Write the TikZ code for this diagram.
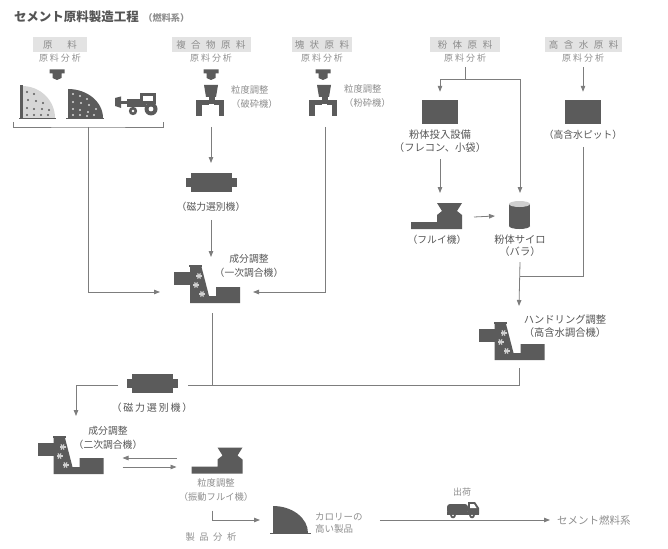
\documentclass[tikz,border=0pt]{standalone}
\usepackage{fontspec}
\setmainfont{Noto Sans CJK JP}
\usetikzlibrary{arrows.meta,shapes.geometric,calc}

\definecolor{ink}{HTML}{5B5B5B}
\definecolor{wire}{HTML}{7D7D7D}
\definecolor{hdrbg}{HTML}{E3E3E3}
\definecolor{hdrtx}{HTML}{8C8C8C}
\definecolor{lbltx}{HTML}{555555}
\definecolor{soft}{HTML}{8E8E8E}
\definecolor{pilelt}{HTML}{D6D6D6}
\definecolor{starc}{HTML}{D0D0D0}
\definecolor{silotop}{HTML}{CFCFCF}
\definecolor{titletx}{HTML}{555555}

% letter spacing helpers
\newcommand\tk{\kern5.5pt}
\newcommand\tks{\kern2pt}

\tikzset{
  conn/.style={draw=wire, line width=0.8pt},
  arr/.style={conn, -{Triangle[length=6pt,width=4.5pt]}},
  hdr/.style={fill=hdrbg, text=hdrtx, font=\fontsize{9.5}{10}\selectfont,
              minimum height=15pt, inner sep=0pt},
  ana/.style={text=soft, font=\fontsize{9}{10}\selectfont, inner sep=0pt},
  lbl/.style={text=lbltx, font=\fontsize{9.8}{14}\selectfont, inner sep=0pt, align=center},
  slbl/.style={text=soft, font=\fontsize{9.3}{14}\selectfont, inner sep=0pt, align=center},
  slot/.style={inner sep=0pt, outer sep=0pt},
  solid box/.style={fill=ink, inner sep=0pt, minimum width=36pt, minimum height=24pt},
  % mixing machine, 67 x 38, origin at top left
  pics/mixer/.style={code={
    \fill[ink] (1,7) rectangle (19,20);
    \fill[ink] (16,0) rectangle (29,2);
    \fill[ink] (17,0) -- (28,0) -- (36,31) -- (43,31) -- (43,22) -- (67,22)
               -- (67,38) -- (17,38) -- cycle;
    \foreach \sx/\sy in {26/11,23/20,29/29}
      \foreach \a in {0,60,120}
        \draw[starc, line width=1.2pt] ($(\sx,\sy)+(\a:3)$) -- ($(\sx,\sy)+(\a+180:3)$);
  }},
  % magnetic separator, 51 x 19
  pics/magnet/.style={code={
    \fill[ink] (5,0) rectangle (46,19);
    \fill[ink] (0,5) rectangle (51,14);
  }},
  % crusher, 30 x 32
  pics/crusher/.style={code={
    \fill[ink] (9,0) -- (23,0) -- (21,12) -- (11,12) -- cycle;
    \fill[ink] (13.5,12) rectangle (19.5,19);
    \fill[ink] (1,15) rectangle (14,20);
    \fill[ink] (1,15) rectangle (6.5,31);
    \fill[ink] (19,15) rectangle (29,20);
    \fill[ink] (23.5,15) rectangle (29,31);
  }},
  % sieve, 51 x 26
  pics/sieve/.style={code={
    \fill[ink] (26,0) -- (51,0) -- (46,8) -- (51,12) -- (51,26) -- (0,26)
               -- (0,19) -- (26,19) -- (26,12) -- (31,8) -- cycle;
  }},
  % silo, 21 x 28
  pics/silo/.style={code={
    \fill[ink] (0,3) rectangle (21,25);
    \fill[ink] (10.5,25) ellipse [x radius=10.5, y radius=3];
    \fill[silotop] (10.5,3) ellipse [x radius=10.5, y radius=3];
  }},
  % product heap, 35 x 27
  pics/heap/.style={code={
    \fill[ink] (0,27) -- (0,0) arc[start angle=-90, end angle=0, x radius=35, y radius=27] -- cycle;
    \draw[ink, line width=0.6pt] (-3,27) -- (38,27);
  }},
  % delivery truck, 32 x 17
  pics/truck/.style={code={
    \fill[ink, rounded corners=3pt] (0,3) rectangle (21,13);
    \fill[ink] (21,1) -- (28,1) -- (32,7) -- (32,13) -- (21,13) -- cycle;
    \fill[white] (23,3) -- (27,3) -- (29.5,7) -- (23,7) -- cycle;
    \fill[ink] (0,11) rectangle (32,14);
    \fill[ink] (6,14.5) circle (2.8);
    \fill[ink] (25,14.5) circle (2.8);
    \fill[white] (6,14.5) circle (0.9);
    \fill[white] (25,14.5) circle (0.9);
  }},
  % thick down arrow, origin at top centre
  pics/blockarrow/.style={code={
    \fill[ink] (-7.5,0) -- (7.5,0) -- (7.5,4) -- (4.5,4) -- (4.5,8.5) -- (0,10.5) -- (-4.5,8.5)
               -- (-4.5,4) -- (-7.5,4) -- cycle;
  }},
}

\begin{document}
\begin{tikzpicture}[x=1pt, y=-1pt]
\useasboundingbox (0,0) rectangle (668,548);

% ---------- title ----------
\node[anchor=west, text=titletx, font=\fontsize{12.5}{13}\selectfont\bfseries, inner sep=0pt]
  (title) at (14,17) {セメント原料製造工程};
\node[anchor=west, text=soft, font=\fontsize{9.2}{10}\selectfont\bfseries, inner sep=0pt]
  (titlesub) at ($(title.east)+(4,1)$) {（燃料系）};

% ---------- material headers ----------
\node[hdr, minimum width=54pt] (h1) at (60,44.5) {原\kern15pt 料};
\node[hdr, minimum width=79pt] (h2) at (211,44.5) {複\tk 合\tk 物\tk 原\tk 料};
\node[hdr, minimum width=60pt] (h3) at (322,44.5) {塊\tk 状\tk 原\tk 料};
\node[hdr, minimum width=70pt] (h4) at (465,44.5) {粉\tk 体\tk 原\tk 料};
\node[hdr, minimum width=77pt] (h5) at (583.5,44.5) {高\tk 含\tk 水\tk 原\tk 料};

\node[ana] (a1) at (60,58) {原\tks 料\tks 分\tks 析};
\node[ana] (a2) at (211,58) {原\tks 料\tks 分\tks 析};
\node[ana] (a3) at (322,58) {原\tks 料\tks 分\tks 析};
\node[ana] (a4) at (465,58) {原\tks 料\tks 分\tks 析};
\node[ana] (a5) at (583,58) {原\tks 料\tks 分\tks 析};

\pic at (57,69.5) {blockarrow};
\pic at (211,69.5) {blockarrow};
\pic at (323,69.5) {blockarrow};

% ---------- raw material yard ----------
\node[slot, minimum width=150pt, minimum height=38pt] (raw) at (88,103) {};
% light heap with post
\fill[pilelt] (22,118) -- (22,86) arc[start angle=-90, end angle=0, x radius=33, y radius=32] -- cycle;
\fill[ink] (20,85) rectangle (22.5,119);
\foreach \dx/\dy in {5/26,12/24,6/18,14/17,21/15,5/10,12/9,20/9,27/8,5/3,12/3,19/3,26/3}
  \fill[ink] ($(22,118)+(\dx,-\dy)$) circle (1.1);
\draw[ink, line width=0.8pt] (19,118.5) -- (56,118.5);
% dark heap
\fill[ink] (68,118) -- (68,89) arc[start angle=-90, end angle=0, x radius=35, y radius=29] -- cycle;
\foreach \dx/\dy in {5/24,12/22,19/19,5/16,13/15,21/13,28/9,5/9,12/8,20/6,5/3,12/3,19/2,26/3}
  \fill[pilelt] ($(68,118)+(\dx,-\dy)$) circle (1.1);
\draw[ink, line width=0.8pt] (66,118.5) -- (104,118.5);
% tractor
\fill[ink] (115,98) -- (121,96.5) -- (121,108) -- (115,106) -- cycle;
\fill[ink] (121,101) rectangle (128,104);
\fill[ink] (127,99) rectangle (146,107);
\fill[ink] (140,93) rectangle (156,104);
\fill[white] (143,96) rectangle (153,101);
\fill[ink] (151,109) circle (6.5);
\fill[white] (151,109) circle (2.4);
\fill[ink] (133,111) circle (4.2);
\fill[white] (133,111) circle (1.4);
% bracket under the yard
\coordinate (rawjoin) at ($(raw.south)+(0,5)$);
\draw[conn] (raw.south west) |- (rawjoin) -| (raw.south east);

% ---------- crushers ----------
\node[slot, minimum width=30pt, minimum height=32pt] (cr1) at (210,101) {};
\pic at (cr1.north west) {crusher};
\node[slbl, anchor=west, align=left] (cr1t) at (231,97) {粒度調整\\（破砕機）};
\node[slot, minimum width=30pt, minimum height=32pt] (cr2) at (323,101) {};
\pic at (cr2.north west) {crusher};
\node[slbl, anchor=west, align=left] (cr2t) at (344,96) {粒度調整\\（粉砕機）};

% ---------- first magnetic separator and primary mixer ----------
\node[slot, minimum width=51pt, minimum height=19pt] (mag1) at (211.5,182.5) {};
\pic at (mag1.north west) {magnet};
\node[lbl] (mag1t) at (211,207) {（磁力選別機）};

\node[slot, minimum width=67pt, minimum height=38pt] (mix1) at (206.5,284) {};
\pic at (mix1.north west) {mixer};
\node[lbl] (mix1t) at (249,266) {成分調整\\（一次調合機）};

% ---------- powder and wet materials ----------
\node[solid box] (pwbox) at (440,112) {};
\node[lbl, font=\fontsize{10.3}{13}\selectfont] (pwt) at (440,141.5) {粉体投入設備\\（フレコン、小袋）};
\node[solid box] (pit) at (583,112) {};
\node[lbl] (pitt) at (583,135) {（高含水ピット）};

\node[slot, minimum width=51pt, minimum height=26pt] (furui) at (436.5,216) {};
\pic at (furui.north west) {sieve};
\node[lbl] (furt) at (437,240) {（フルイ機）};

\node[slot, minimum width=21pt, minimum height=28pt] (silo) at (519.5,215) {};
\pic at (silo.north west) {silo};
\node[lbl, font=\fontsize{10.3}{12}\selectfont] (silot) at (520,246) {粉体サイロ\\（バラ）};

\node[slot, minimum width=67pt, minimum height=38pt] (mix3) at (511,341) {};
\pic at (mix3.north west) {mixer};
\node[lbl, font=\fontsize{10.3}{13}\selectfont] (mix3t) at (565,326.5) {ハンドリング調整\\（高含水調合機）};

% ---------- second stage ----------
\node[slot, minimum width=51pt, minimum height=19pt] (mag2) at (152.5,383.5) {};
\pic at (mag2.north west) {magnet};
\node[lbl, font=\fontsize{10}{12}\selectfont\addfontfeature{LetterSpace=18}] (mag2t) at (152,408) {（磁力選別機）};

\node[slot, minimum width=67pt, minimum height=38pt] (mix2) at (70,455) {};
\pic at (mix2.north west) {mixer};
\node[lbl] (mix2t) at (108,437.5) {成分調整\\（二次調合機）};

\node[slot, minimum width=51pt, minimum height=26pt] (vib) at (217,460.5) {};
\pic at (vib.north west) {sieve};
\node[slbl] (vibt) at (216,490) {粒度調整\\（振動フルイ機）};

\node[text=soft, font=\fontsize{9.3}{10}\selectfont, inner sep=0pt] (anal) at (211,537) {製\kern4.5pt 品\kern4.5pt 分\kern4.5pt 析};

\node[slot, minimum width=35pt, minimum height=27pt] (heap) at (290.5,519.5) {};
\pic at (heap.north west) {heap};
\node[slbl, anchor=west, align=left, font=\fontsize{9.5}{12}\selectfont] (heapt) at (315,523) {カロリーの\\高い製品};

\node[slot, minimum width=32pt, minimum height=17pt] (truck) at (463,509.5) {};
\pic at (truck.north west) {truck};
\node[text=soft, font=\fontsize{9}{10}\selectfont, inner sep=0pt] (shipt) at (462,492) {出荷};

\node[text=soft, font=\fontsize{10.5}{12}\selectfont, anchor=west, inner sep=0pt] (dest) at (557,520) {セメント燃料系};

% ---------- connectors ----------
% yard and lump line into the primary mixer
\draw[arr] (rawjoin) |- ($(mix1.west)+(-13,8)$);
\draw[arr] ($(cr2.south)+(2,10)$) |- ($(mix1.east)+(13,8)$);
% composite line
\draw[arr] ($(cr1.south)+(1,10)$) -- ($(mag1.north)+(-0.5,-10)$);
\draw[arr] ($(mag1t.south)+(0,8)$) -- ($(mix1.north)+(4.5,-8)$);
% powder line
\coordinate (pwsplit) at ($(a4.south)+(0,17)$);
\draw[conn] ($(a4.south)+(0,5)$) -- (pwsplit);
\draw[arr] (pwsplit) -| ($(pwbox.north)+(0,-8)$);
\draw[arr] (pwsplit) -| ($(silo.north)+(0.5,-8)$);
\draw[arr] ($(pwt.south)+(0,6)$) -- ($(furui.north)+(3.5,-10)$);
\draw[arr] ($(furui.east)+(12,1)$) -- ($(silo.west)+(-14,1)$);
% wet line
\draw[arr] ($(a5.south)+(0,5)$) -- ($(pit.north)+(0,-8)$);
\coordinate (wetjoin) at ($(silot.south)+(0,19)$);
\draw[conn] ($(pitt.south)+(0,7)$) |- (wetjoin);
\draw[arr] ($(silot.south)+(0,5)$) -- ($(mix3.north)+(8,-16)$);
% collecting line to the second separator
\coordinate (m2e) at ($(mag2.east)+(10,1.5)$);
\coordinate (m1o) at ($(mix1.south)+(5.5,10)$);
\draw[conn] ($(mix3.south)+(8,8)$) |- (m2e);
\draw[conn] (m1o) -- (m1o |- m2e);
\draw[arr] ($(mag2.west)+(-9,1.5)$) -| ($(mix2.north)+(6,-20)$);
% secondary mixer and vibrating sieve
\draw[arr] ($(vib.west)+(-15,-2.5)$) -- ($(mix2.east)+(19,3)$);
\draw[arr] ($(mix2.east)+(19,12)$) -- ($(vib.west)+(-15,6.5)$);
\draw[arr] ($(vibt.south)+(-4,9)$) |- ($(heap.west)+(-13,0.5)$);
% shipment
\draw[arr] ($(heapt.east |- dest.west)+(17,0)$) -- ($(dest.west)+(-7,0)$);

\end{tikzpicture}
\end{document}
